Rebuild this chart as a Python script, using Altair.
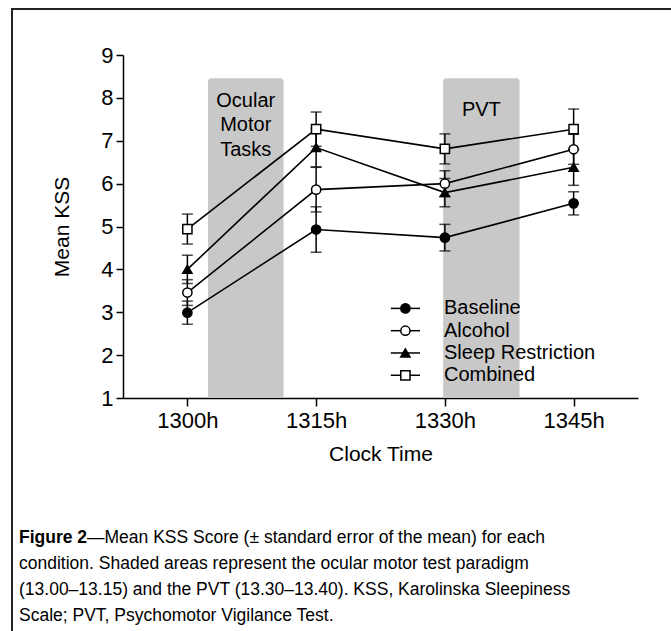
import altair as alt
import pandas as pd

# ---- data ----
times = [0, 15, 30, 45]                      # minutes after 1300h
tick_labels = ["1300h", "1315h", "1330h", "1345h"]
series = ["Baseline", "Alcohol", "Sleep Restriction", "Combined"]

baseline = [2.99, 4.93, 4.74, 5.54]
baseline_se = [0.27, 0.53, 0.31, 0.27]
alcohol = [3.46, 5.86, 6.00, 6.80]
alcohol_se = [0.30, 0.52, 0.30, 0.35]
sleep = [4.00, 6.84, 5.79, 6.38]
sleep_se = [0.33, 0.45, 0.33, 0.42]
combined = [4.94, 7.27, 6.81, 7.27]
combined_se = [0.35, 0.40, 0.35, 0.47]

shade_labels = ["Ocular\nMotor\nTasks", "PVT"]
shade_start = [2.4, 29.8]
shade_end = [11.2, 38.7]
shade_top = [8.46, 8.46]
shade_label_y = [8.17, 7.96]

caption_bold = "Figure 2"
caption_first = "\u2014Mean KSS Score (\u00b1 standard error of the mean) for each"
caption_rest = [
    "condition. Shaded areas represent the ocular motor test paradigm",
    "(13.00\u201313.15) and the PVT (13.30\u201313.40). KSS, Karolinska Sleepiness",
    "Scale; PVT, Psychomotor Vigilance Test.",
]

# ---- build tables ----
means = [baseline, alcohol, sleep, combined]
ses = [baseline_se, alcohol_se, sleep_se, combined_se]
rows = []
for s, m, e in zip(series, means, ses):
    for t, v, se in zip(times, m, e):
        rows.append({"series": s, "t": t, "kss": v, "lo": v - se, "hi": v + se})
df = pd.DataFrame(rows)

shade_df = pd.DataFrame({
    "label": shade_labels, "start": shade_start, "end": shade_end,
    "top": shade_top, "bottom": [1, 1], "ly": shade_label_y,
})
shade_df["mid"] = (shade_df["start"] + shade_df["end"]) / 2

FONT = "Liberation Sans"
BLACK = "#000000"

shape_scale = alt.Scale(domain=series, range=["circle", "circle", "triangle-up", "square"])
fill_scale = alt.Scale(domain=series, range=["black", "white", "black", "white"])
size_scale = alt.Scale(domain=series, range=[85, 85, 95, 125])

label_expr = " : ".join(
    f"datum.value == {t} ? '{l}'" for t, l in zip(times, tick_labels)
) + " : ''"

x_scale = alt.Scale(domain=[-7.5, 52.5], nice=False, zero=False)
x_enc = alt.X("t:Q", scale=x_scale,
              axis=alt.Axis(values=times, labelExpr=label_expr, title="Clock Time",
                            grid=False, tickSize=8, tickWidth=1.5, domainWidth=1.5,
                            domainColor=BLACK, tickColor=BLACK, labelColor=BLACK,
                            labelFontSize=22, labelFont=FONT, labelPadding=4,
                            titleFont=FONT, titleFontSize=21, titleFontWeight="normal",
                            titleColor=BLACK, titlePadding=12))
y_scale = alt.Scale(domain=[1, 9], nice=False, zero=False)
y_enc = alt.Y("kss:Q", scale=y_scale,
              axis=alt.Axis(values=list(range(1, 10)), title="Mean KSS", grid=False,
                            tickSize=7, tickWidth=1.5, domainWidth=1.5,
                            domainColor=BLACK, tickColor=BLACK, labelColor=BLACK,
                            labelFontSize=22, labelFont=FONT, labelPadding=3,
                            titleFont=FONT, titleFontSize=21, titleFontWeight="normal",
                            titleColor=BLACK, titlePadding=28))

base = alt.Chart(df)

shade = alt.Chart(shade_df).mark_rect(
    color="#c8c8c8", cornerRadiusTopLeft=3, cornerRadiusTopRight=3
).encode(
    x=alt.X("start:Q", scale=x_scale),
    x2="end:Q",
    y=alt.Y("bottom:Q", scale=y_scale),
    y2="top:Q",
)

shade_text = alt.Chart(shade_df).mark_text(
    font=FONT, fontSize=20, color=BLACK, baseline="top", align="center",
    lineBreak="\n", lineHeight=24.5
).encode(x="mid:Q", y=alt.Y("ly:Q", scale=y_scale), text="label:N")

err = base.mark_rule(color=BLACK, strokeWidth=1.5).encode(
    x="t:Q", y=alt.Y("lo:Q", scale=y_scale), y2="hi:Q")
cap_lo = base.mark_tick(color=BLACK, orient="horizontal", size=11, thickness=1.5).encode(
    x="t:Q", y=alt.Y("lo:Q", scale=y_scale))
cap_hi = base.mark_tick(color=BLACK, orient="horizontal", size=11, thickness=1.5).encode(
    x="t:Q", y=alt.Y("hi:Q", scale=y_scale))

lines = base.mark_line(color=BLACK, strokeWidth=1.6).encode(
    x=x_enc, y=y_enc, detail="series:N")

points = base.mark_point(filled=False, stroke=BLACK, strokeWidth=1.5, opacity=1).encode(
    x="t:Q", y=alt.Y("kss:Q", scale=y_scale),
    shape=alt.Shape("series:N", scale=shape_scale, legend=None),
    fill=alt.Fill("series:N", scale=fill_scale, legend=None),
    size=alt.Size("series:N", scale=size_scale, legend=None),
)

# ---- manual legend (positions in data units) ----
leg_y0, leg_step = 3.09, 0.52
leg_df = pd.DataFrame({
    "series": series,
    "ly": [leg_y0 - i * leg_step for i in range(len(series))],
})
leg_df["lx0"] = 23.7
leg_df["lx1"] = 27.1
leg_df["lxm"] = 25.4
leg_df["ltx"] = 29.9

leg_line = alt.Chart(leg_df).mark_rule(color=BLACK, strokeWidth=1.5).encode(
    x="lx0:Q", x2="lx1:Q", y=alt.Y("ly:Q", scale=y_scale))
leg_pt = alt.Chart(leg_df).mark_point(filled=False, stroke=BLACK, strokeWidth=1.5, opacity=1).encode(
    x="lxm:Q", y=alt.Y("ly:Q", scale=y_scale),
    shape=alt.Shape("series:N", scale=shape_scale, legend=None),
    fill=alt.Fill("series:N", scale=fill_scale, legend=None),
    size=alt.Size("series:N", scale=size_scale, legend=None),
)
leg_txt = alt.Chart(leg_df).mark_text(
    font=FONT, fontSize=20, color=BLACK, align="left", baseline="middle"
).encode(x="ltx:Q", y=alt.Y("ly:Q", scale=y_scale), text="series:N")

# ---- caption and frame (outside the plot area) ----
CAP_FONT = "Liberation Sans"
CAP_SIZE = 17.5
cap_df = pd.DataFrame({"b": [caption_bold], "f": [caption_first],
                       "r": ["\n".join(caption_rest)]})
cap_b = alt.Chart(cap_df).mark_text(
    font=CAP_FONT, fontSize=CAP_SIZE, fontWeight="bold", color=BLACK, align="left",
    baseline="middle").encode(x=alt.value(-104), y=alt.value(483), text="b:N")
cap_f = alt.Chart(cap_df).mark_text(
    font=CAP_FONT, fontSize=CAP_SIZE, color=BLACK, align="left",
    baseline="middle").encode(x=alt.value(-36), y=alt.value(483), text="f:N")
cap_r = alt.Chart(cap_df).mark_text(
    font=CAP_FONT, fontSize=CAP_SIZE, color=BLACK, align="left", baseline="middle",
    lineBreak="\n", lineHeight=26).encode(x=alt.value(-104), y=alt.value(509), text="r:N")

frame_top = alt.Chart(cap_df).mark_rule(color="#222222", strokeWidth=2).encode(
    x=alt.value(-111), x2=alt.value(560), y=alt.value(-46))
frame_left = alt.Chart(cap_df).mark_rule(color="#222222", strokeWidth=2).encode(
    x=alt.value(-111), y=alt.value(-47), y2=alt.value(600))

chart = alt.layer(
    shade, shade_text, err, cap_lo, cap_hi, lines, points,
    leg_line, leg_pt, leg_txt, cap_b, cap_f, cap_r, frame_top, frame_left
).properties(
    width=515, height=343,
    autosize=alt.AutoSizeParams(type="none"),
    padding={"left": 123, "top": 55, "right": 33, "bottom": 233},
    background="white",
).configure_view(strokeWidth=0)

chart.save("out.html", embed_options={"renderer": "svg", "actions": False})
